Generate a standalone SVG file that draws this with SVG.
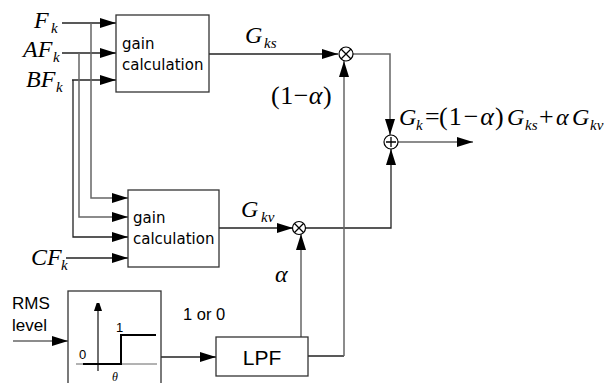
<svg xmlns="http://www.w3.org/2000/svg" width="609" height="383" viewBox="0 0 609 383">
<defs>
<marker id="ah" markerUnits="userSpaceOnUse" markerWidth="16" markerHeight="10" refX="16" refY="5" orient="auto"><path d="M0,0 L16,5 L0,10 z" fill="#000"/></marker>
<marker id="ahs" markerUnits="userSpaceOnUse" markerWidth="8" markerHeight="12" refX="8" refY="4" orient="auto"><path d="M0,0 L12,4 L0,8 z" fill="#000"/></marker>
</defs>
<style>
.box{fill:#fff;stroke:#333;stroke-width:1.3}
.ln{fill:none;stroke:#222;stroke-width:1.3}
.gl{fill:none;stroke:#666;stroke-width:1.5}
.sans{font-family:"DejaVu Sans",sans-serif;font-size:15px;fill:#000}
.ar{font-family:"Liberation Sans",Arial,sans-serif;fill:#000}
.m{font-family:"Liberation Serif","Times New Roman",serif;font-style:italic;font-size:24px;fill:#000}
.mu{font-family:"Liberation Serif","Times New Roman",serif;font-size:26px;fill:#000}
.sub{font-family:"Liberation Serif","Times New Roman",serif;font-style:italic;font-size:15px;fill:#000}
.circ{fill:#fff;stroke:#000;stroke-width:1.2}
</style>
<g id="connectors">
<path class="ln" d="M62,23 H116" marker-end="url(#ah)"/>
<path class="ln" d="M62,53 H116" marker-end="url(#ah)"/>
<path class="ln" d="M72,80 H116" marker-end="url(#ah)"/>
<path class="gl" d="M91,23 V198 H128" marker-end="url(#ah)"/>
<path class="gl" d="M79,53 V217 H128" marker-end="url(#ah)"/>
<path class="ln" d="M73,80 V237 H128" marker-end="url(#ah)"/>
<path class="ln" d="M66,258 H128" marker-end="url(#ah)"/>
<path class="ln" d="M209,54 H338" marker-end="url(#ah)"/>
<path class="gl" d="M353,54 H390 V135" marker-end="url(#ah)"/>
<path class="gl" d="M398,142 H473" marker-end="url(#ah)"/>
<path class="ln" d="M219,228 H293" marker-end="url(#ah)"/>
<path class="ln" d="M305,228 H391 V149" marker-end="url(#ah)"/>
<path class="gl" d="M301,337 V234" marker-end="url(#ah)"/>
<path class="ln" d="M308,356 H344"/>
<path class="gl" d="M344,356 V61" marker-end="url(#ah)"/>
<path class="gl" d="M13,341 H68" marker-end="url(#ah)"/>
<path class="ln" d="M161,357 H216" marker-end="url(#ah)"/>
</g>
<g id="gain1">
<rect class="box" x="116" y="15" width="93" height="77"/>
<text class="sans" x="122" y="49">gain</text>
<text class="sans" x="122" y="70">calculation</text>
</g>
<g id="gain2">
<rect class="box" x="128" y="190" width="91" height="77"/>
<text class="sans" x="133" y="223">gain</text>
<text class="sans" x="133" y="244">calculation</text>
</g>
<g id="mult1">
<circle class="circ" cx="346" cy="54" r="7"/>
<path class="ln" d="M341,49 L351,59 M351,49 L341,59" style="stroke:#000"/>
</g>
<g id="mult2">
<circle class="circ" cx="299" cy="228" r="6.5"/>
<path class="ln" d="M294.5,223.5 L303.5,232.5 M303.5,223.5 L294.5,232.5" style="stroke:#000"/>
</g>
<g id="sum">
<circle class="circ" cx="391" cy="142" r="7"/>
<path class="ln" d="M386,142 H396 M391,137 V147" style="stroke:#000"/>
</g>
<g id="lpf">
<rect class="box" x="216" y="337" width="92" height="39"/>
<text class="ar" x="262" y="365" font-size="21" text-anchor="middle">LPF</text>
</g>
<g id="threshold">
<rect class="box" x="68" y="291" width="93" height="100"/>
<path class="gl" d="M76,364 H157" style="stroke-width:1"/>
<path class="ln" d="M98,371 V303" marker-end="url(#ahs)"/>
<path d="M83,364 H121 V335 H156" fill="none" stroke="#000" stroke-width="2"/>
<text class="ar" x="116" y="332" font-size="13">1</text>
<text class="ar" x="79" y="359" font-size="13">0</text>
<text x="112" y="381" font-family="Liberation Serif,serif" font-style="italic" font-size="12">θ</text>
</g>
<g id="labels">
<text class="m" x="34" y="28">F</text><text class="sub" x="51" y="33">k</text>
<text class="m" x="23" y="57">AF</text><text class="sub" x="53" y="62">k</text>
<text class="m" x="26" y="87">BF</text><text class="sub" x="56" y="92">k</text>
<text class="m" x="31" y="265">CF</text><text class="sub" x="61" y="270">k</text>
<text class="m" x="245" y="43">G</text><text class="sub" x="264" y="48">ks</text>
<text class="m" x="241" y="217">G</text><text class="sub" x="261" y="222">kv</text>
<text class="m" x="275" y="282">α</text>
<text class="mu" x="271" y="104" letter-spacing="0.5">(1−<tspan font-style="italic">α</tspan>)</text>
<g id="eq">
<text class="m" x="399" y="125">G</text><text class="sub" x="416" y="130">k</text>
<text class="mu" x="425" y="125">=</text>
<text class="mu" x="439" y="125"><tspan>(</tspan><tspan dx="1">1</tspan><tspan dx="2">−</tspan><tspan dx="2" font-style="italic">α</tspan><tspan dx="1">)</tspan></text>
<text class="m" x="507" y="125">G</text><text class="sub" x="525" y="130">ks</text>
<text class="mu" x="539" y="125">+</text>
<text class="m" x="556" y="125">α</text>
<text class="m" x="572" y="125">G</text><text class="sub" x="590" y="130">kv</text>
</g>
<text class="ar" x="12" y="309" font-size="17">RMS</text>
<text class="ar" x="12" y="331" font-size="17">level</text>
<text class="ar" x="183" y="320" font-size="16.5">1 or 0</text>
</g>
</svg>
